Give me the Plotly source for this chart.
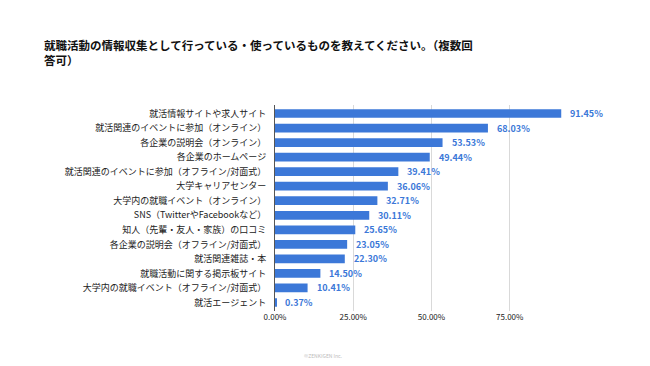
import plotly.graph_objects as go

categories = [
    "就活情報サイトや求人サイト",
    "就活関連のイベントに参加（オンライン）",
    "各企業の説明会（オンライン）",
    "各企業のホームページ",
    "就活関連のイベントに参加（オフライン/対面式）",
    "大学キャリアセンター",
    "大学内の就職イベント（オンライン）",
    "SNS（TwitterやFacebookなど）",
    "知人（先輩・友人・家族）の口コミ",
    "各企業の説明会（オフライン/対面式）",
    "就活関連雑誌・本",
    "就職活動に関する掲示板サイト",
    "大学内の就職イベント（オフライン/対面式）",
    "就活エージェント",
]
values = [91.45, 68.03, 53.53, 49.44, 39.41, 36.06, 32.71, 30.11, 25.65, 23.05, 22.30, 14.50, 10.41, 0.37]
tick_vals = [0, 25, 50, 75, 100]
tick_text = ["0.00%", "25.00%", "50.00%", "75.00%", ""]

title_text = "就職活動の情報収集として行っている・使っているものを教えてください。（複数回<br>答可）"
footer_text = "©ZENKIGEN Inc."

FONT = "Noto Sans CJK JP, Noto Sans, sans-serif"
BLUE = "#3c78d8"

# The page body has an 8px margin, so the figure is sized to fill the rest of the window.
W, H = 642, 358
ML, MR, MT, MB = 267, 62, 97, 55

fig = go.Figure()
fig.add_trace(go.Bar(
    y=categories,
    x=values,
    orientation="h",
    marker=dict(color=BLUE, line=dict(width=0)),
    hoverinfo="skip",
))

for c, v in zip(categories, values):
    fig.add_annotation(
        x=v, y=c, xref="x", yref="y",
        text=f"<b>{v:.2f}%</b>",
        showarrow=False, xanchor="left", xshift=7,
        font=dict(family=FONT, size=9, color=BLUE),
    )

plot_left, plot_right = ML, W - MR
plot_top, plot_bottom = MT, H - MB
def px_to_paper_x(px):
    return (px - plot_left) / (plot_right - plot_left)
def px_to_paper_y(py):
    return (plot_bottom - py) / (plot_bottom - plot_top)

fig.add_annotation(
    x=px_to_paper_x(34), y=px_to_paper_y(27), xref="paper", yref="paper",
    text=f"<b>{title_text}</b>", showarrow=False,
    xanchor="left", yanchor="top", align="left",
    font=dict(family=FONT, size=11.5, color="#111111"),
)
fig.add_annotation(
    x=px_to_paper_x(315), y=px_to_paper_y(347), xref="paper", yref="paper",
    text=footer_text, showarrow=False,
    xanchor="center", yanchor="middle",
    font=dict(family=FONT, size=5, color="#bbbbbb"),
)

fig.update_layout(
    width=W, height=H,
    margin=dict(l=ML, r=MR, t=MT, b=MB, autoexpand=False),
    paper_bgcolor="white", plot_bgcolor="white",
    bargap=0.4,
    showlegend=False,
    font=dict(family=FONT, size=9, color="#222222"),
    xaxis=dict(
        range=[0, 100],
        tickvals=tick_vals, ticktext=tick_text,
        showgrid=True, gridcolor="#d9d9d9", gridwidth=1,
        zeroline=False, showline=False,
        tickfont=dict(family=FONT, size=8, color="#222222"),
        ticks="", ticklen=0,
        fixedrange=True,
    ),
    yaxis=dict(
        autorange="reversed",
        showgrid=False, zeroline=False,
        showline=True, linecolor="#555555", linewidth=1,
        ticks="", ticklabelstandoff=6,
        tickfont=dict(family=FONT, size=9, color="#222222"),
        fixedrange=True,
    ),
)

fig.write_html("out.html")
